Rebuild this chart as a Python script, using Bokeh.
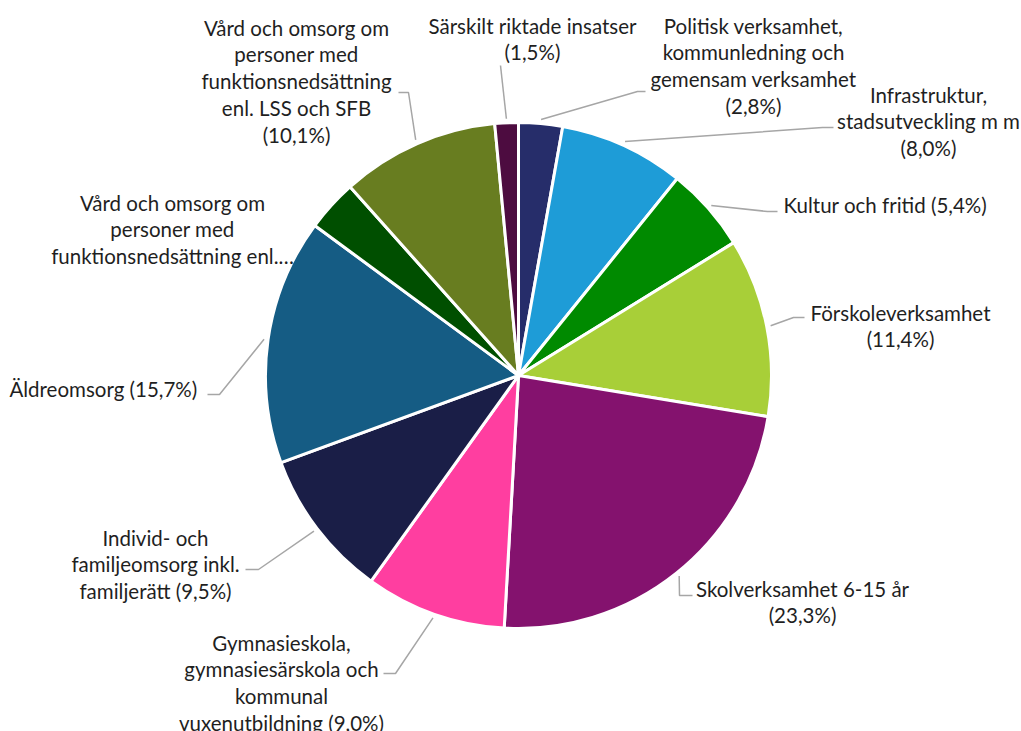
import math
from bokeh.plotting import figure
from bokeh.models import Range1d, ColumnDataSource
from bokeh.embed import file_html
from bokeh.resources import INLINE
from bokeh.core.properties import value

# ---------------- data ----------------
categories = [
    "Politisk verksamhet, kommunledning och gemensam verksamhet",
    "Infrastruktur, stadsutveckling m m",
    "Kultur och fritid",
    "Förskoleverksamhet",
    "Skolverksamhet 6-15 år",
    "Gymnasieskola, gymnasiesärskola och kommunal vuxenutbildning",
    "Individ- och familjeomsorg inkl. familjerätt",
    "Äldreomsorg",
    "Vård och omsorg om personer med funktionsnedsättning enl. SoL",
    "Vård och omsorg om personer med funktionsnedsättning enl. LSS och SFB",
    "Särskilt riktade insatser",
]
values = [2.8, 8.0, 5.4, 11.4, 23.3, 9.0, 9.5, 15.7, 3.3, 10.1, 1.5]
colors = ["#262d6a", "#1e9cd7", "#008a00", "#a8cf38", "#84126e", "#ff3ea0",
          "#1a1e47", "#155c84", "#004f00", "#687d20", "#4d0c40"]

# label text lines ({pct} is filled from values)
label_lines = [
    ["Politisk verksamhet,", "kommunledning och", "gemensam verksamhet", "({pct})"],
    ["Infrastruktur,", "stadsutveckling m m", "({pct})"],
    ["Kultur och fritid ({pct})"],
    ["Förskoleverksamhet", "({pct})"],
    ["Skolverksamhet 6-15 år", "({pct})"],
    ["Gymnasieskola,", "gymnasiesärskola och", "kommunal", "vuxenutbildning ({pct})"],
    ["Individ- och", "familjeomsorg inkl.", "familjerätt ({pct})"],
    ["Äldreomsorg  ({pct})"],
    ["Vård och omsorg om", "personer med", "funktionsnedsättning enl.…"],
    ["Vård och omsorg om", "personer med", "funktionsnedsättning", "enl. LSS och SFB", "({pct})"],
    ["Särskilt riktade insatser", "({pct})"],
]

# ---------------- layout (page pixel coordinates) ----------------
W, H = 1021, 731
OX, OY = 0, 0          # where the figure's top-left lands on the page
def X(px):
    return px - OX
def Y(py):
    return H - (py - OY)

CX, CY, R = 518, 375, 253
LINE_STEP = 26.8
FONT = "Lato"
FONT_SIZE = "20.5px"
TEXT_COLOR = "#1f1f1f"
LEADER_COLOR = "#a6a6a6"

# label anchor: x, y of first line centre, alignment
label_pos = [
    (753, 25, "center"),
    (928, 94, "center"),
    (783, 204, "left"),
    (900, 312, "center"),
    (802, 588, "center"),
    (281, 642, "center"),
    (155, 537, "center"),
    (202, 388, "right"),
    (172, 202, "center"),
    (296, 27, "center"),
    (532, 25, "center"),
]
# leader elbow points (page coords); None = no leader
leader_pts = [
    [(637, 91), (645, 91)],
    [(822, 127), (833, 127)],
    [(767, 211), (777, 211)],
    [(793, 317), (804, 317)],
    [(679, 595), (692, 595)],
    [(395, 673), (383, 673)],
    [(258, 569), (245, 569)],
    [(219, 394), (207, 394)],
    None,
    [(408, 92), (398, 92)],
    [(500, 65)],
]

p = figure(width=W, height=H,
           x_range=Range1d(0, W), y_range=Range1d(0, H),
           output_backend="svg", toolbar_location=None, min_border=0)
p.axis.visible = False
p.xgrid.visible = False
p.ygrid.visible = False
p.outline_line_color = None
p.background_fill_color = "white"
p.border_fill_color = "white"

total = sum(values)
starts, ends, mids = [], [], []
cum = 0.0
for v in values:
    a0 = math.pi / 2 - 2 * math.pi * cum / total
    cum += v
    a1 = math.pi / 2 - 2 * math.pi * cum / total
    starts.append(a0)
    ends.append(a1)
    mids.append((a0 + a1) / 2)

src = ColumnDataSource(dict(x=[X(CX)] * len(values), y=[Y(CY)] * len(values),
                            start=starts, end=ends, color=colors, cat=categories))
p.wedge(x="x", y="y", radius=R, radius_units="screen",
        start_angle="start", end_angle="end", direction="clock",
        fill_color="color", line_color="white", line_width=3, source=src)

# leaders
xs, ys = [], []
for m, pts in zip(mids, leader_pts):
    if pts is None:
        continue
    sx = X(CX) + (R + 4) * math.cos(m)
    sy = Y(CY) + (R + 4) * math.sin(m)
    xs.append([sx] + [X(q[0]) for q in pts])
    ys.append([sy] + [Y(q[1]) for q in pts])
p.multi_line(xs=xs, ys=ys, line_color=LEADER_COLOR, line_width=1.5)

# labels
groups = {"left": ([], [], []), "center": ([], [], []), "right": ([], [], [])}
for v, lines, (lx, ly, al) in zip(values, label_lines, label_pos):
    pct = ("%.1f%%" % v).replace(".", ",")
    for i, ln in enumerate(lines):
        gx, gy, gt = groups[al]
        gx.append(X(lx))
        gy.append(Y(ly + i * LINE_STEP))
        gt.append(ln.format(pct=pct))
for al, (gx, gy, gt) in groups.items():
    if not gt:
        continue
    p.text(x=gx, y=gy, text=gt, text_align=al, text_baseline="middle",
           text_font=value(FONT), text_font_size=FONT_SIZE, text_color=TEXT_COLOR)

open("out.html", "w").write(file_html(p, INLINE))
